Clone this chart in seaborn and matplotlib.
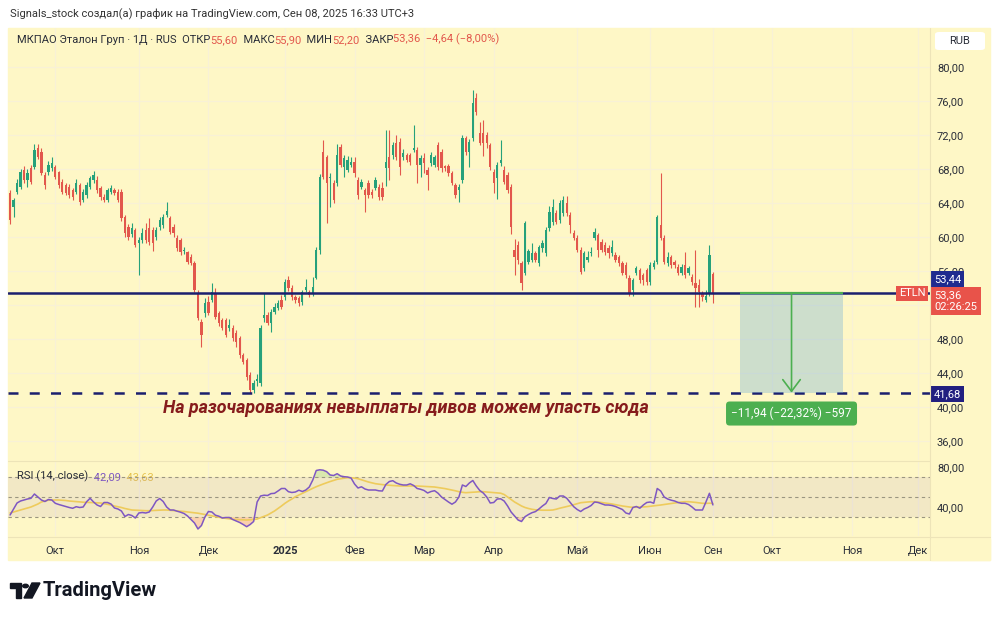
import numpy as np
import pandas as pd
import seaborn as sns
import matplotlib.pyplot as plt
from matplotlib.patches import Rectangle, Polygon, Circle, FancyBboxPatch
from matplotlib.lines import Line2D

# daily candles (RUB)
opens = [65.2, 63.5, 65.3, 65.9, 67.9, 66.7, 68.1, 68.2, 70.5, 70.0,
         67.3, 67.6, 68.1, 68.2, 67.6, 66.5, 66.1, 65.9, 65.5, 65.3,
         66.1, 64.4, 64.9, 65.9, 66.7, 66.7, 65.8, 64.7, 64.4, 65.3,
         65.5, 65.3, 65.3, 62.4, 61.2, 60.4, 60.8, 59.3, 59.6, 60.8,
         61.0, 60.8, 60.0, 61.2, 61.4, 62.6, 62.2, 61.2, 59.9, 59.6,
         58.3, 58.2, 57.6, 56.9, 53.4, 50.0, 51.0, 52.4, 52.6, 53.4,
         51.0, 50.2, 50.2, 49.3, 49.3, 48.7, 48.1, 46.1, 45.5, 43.8,
         42.0, 43.0, 42.8, 50.5, 50.8, 49.9, 51.2, 51.7, 52.6, 52.9,
         54.9, 54.0, 52.9, 52.8, 52.4, 53.8, 53.5, 53.4, 55.2, 58.5,
         70.0, 69.4, 66.9, 66.4, 66.4, 70.6, 68.2, 67.9, 68.5, 68.8,
         66.7, 65.9, 65.5, 66.4, 65.3, 65.8, 65.9, 65.8, 68.1, 69.4,
         69.6, 71.1, 71.2, 69.4, 69.6, 69.6, 70.2, 70.2, 68.5, 69.3,
         67.9, 68.7, 68.5, 70.8, 70.0, 68.3, 68.3, 67.5, 66.1, 65.5,
         66.7, 71.6, 70.0, 71.6, 76.4, 72.2, 72.2, 72.0, 70.8, 67.6,
         66.9, 68.7, 67.9, 67.3, 65.9, 58.5, 59.1, 56.9, 55.8, 57.1,
         57.3, 58.1, 56.9, 58.7, 58.1, 61.0, 61.8, 62.8, 62.0, 62.8,
         64.0, 62.6, 60.5, 59.9, 58.5, 56.3, 57.3, 58.1, 59.9, 60.2,
         59.4, 59.1, 58.7, 58.1, 57.9, 57.6, 56.9, 56.7, 55.2, 53.8,
         55.8, 56.1, 55.5, 56.1, 54.7, 56.5, 57.1, 61.4, 59.9, 56.9,
         57.6, 57.0, 56.5, 55.8, 56.7, 55.8, 55.3, 54.6, 54.4, 53.4,
         52.6, 53.4, 55.6]
highs = [65.5, 64.6, 66.8, 68.0, 68.4, 68.0, 68.5, 71.0, 71.0, 70.5,
         67.6, 68.9, 69.4, 68.5, 67.8, 66.8, 66.4, 66.2, 65.8, 66.8,
         66.4, 65.6, 66.5, 67.2, 67.8, 67.2, 66.0, 65.0, 65.8, 66.1,
         65.8, 65.6, 65.6, 62.6, 61.5, 61.6, 61.0, 60.0, 61.0, 61.6,
         62.2, 61.2, 61.2, 62.4, 62.7, 64.1, 62.5, 61.5, 60.2, 59.9,
         58.8, 58.4, 58.0, 57.2, 53.8, 50.4, 52.8, 53.0, 54.6, 54.0,
         51.3, 50.5, 50.5, 50.4, 49.6, 49.0, 48.4, 46.4, 45.8, 44.1,
         43.2, 43.9, 49.6, 53.4, 51.2, 51.5, 52.2, 52.6, 53.2, 55.0,
         55.4, 54.3, 53.2, 53.0, 53.8, 55.0, 53.8, 55.3, 58.8, 67.4,
         71.4, 69.7, 67.5, 66.7, 71.0, 71.0, 69.6, 69.5, 69.4, 69.4,
         67.0, 66.8, 65.8, 66.7, 65.6, 67.0, 66.2, 66.5, 72.6, 72.6,
         71.2, 72.0, 71.6, 70.3, 69.9, 69.9, 73.2, 70.6, 69.6, 69.9,
         68.2, 70.0, 69.6, 71.2, 70.4, 68.5, 68.6, 67.8, 66.4, 66.2,
         72.0, 71.9, 71.5, 77.3, 76.9, 73.5, 73.8, 72.4, 71.1, 68.0,
         68.8, 71.4, 68.3, 67.6, 66.2, 59.8, 59.5, 57.2, 61.9, 58.6,
         59.3, 58.4, 59.1, 59.6, 61.2, 63.6, 64.5, 63.2, 64.4, 64.8,
         64.8, 62.9, 60.8, 60.2, 58.8, 58.4, 58.4, 58.8, 61.0, 60.5,
         59.8, 59.4, 59.0, 59.6, 58.2, 57.9, 57.2, 57.0, 55.5, 55.2,
         56.6, 56.4, 55.8, 56.4, 57.0, 57.3, 62.6, 67.5, 60.2, 58.2,
         57.9, 57.3, 56.8, 56.8, 58.2, 56.6, 55.6, 58.5, 55.0, 53.7,
         53.8, 59.1, 55.9]
lows = [61.5, 62.4, 65.0, 65.6, 66.4, 65.9, 66.2, 68.0, 69.2, 67.3,
        65.6, 67.3, 67.8, 66.8, 65.8, 65.0, 64.9, 64.6, 64.4, 65.0,
        63.8, 64.1, 64.6, 65.6, 66.4, 65.2, 64.4, 64.1, 64.1, 65.0,
        64.9, 64.1, 61.9, 60.0, 59.6, 60.0, 58.8, 55.5, 59.3, 59.3,
        59.0, 58.3, 59.6, 60.8, 61.0, 62.3, 60.3, 60.0, 58.4, 57.9,
        58.0, 56.8, 56.7, 53.5, 50.2, 47.0, 50.6, 50.8, 52.3, 50.3,
        49.5, 49.0, 48.2, 48.9, 47.8, 47.0, 45.8, 45.0, 43.2, 41.7,
        41.7, 42.5, 42.5, 50.0, 49.6, 48.8, 50.9, 51.4, 51.5, 52.6,
        53.7, 52.6, 52.2, 51.9, 52.0, 53.5, 52.9, 53.1, 55.0, 58.0,
        66.8, 61.6, 63.5, 64.0, 66.0, 68.2, 67.0, 67.6, 68.2, 67.1,
        64.5, 65.6, 62.9, 64.6, 64.6, 65.5, 64.4, 64.4, 66.0, 66.7,
        69.2, 69.1, 67.3, 69.0, 68.8, 68.5, 70.0, 66.4, 67.0, 67.5,
        65.5, 68.4, 68.2, 67.9, 67.6, 67.8, 67.2, 66.1, 64.6, 64.1,
        66.4, 69.7, 68.2, 71.3, 74.4, 70.8, 69.5, 70.5, 67.9, 65.2,
        64.5, 68.4, 66.2, 65.2, 60.3, 55.5, 56.8, 53.8, 55.5, 56.8,
        57.0, 57.0, 56.6, 58.2, 57.8, 60.7, 61.4, 61.5, 61.7, 62.5,
        62.5, 60.5, 59.6, 58.2, 55.6, 56.0, 57.0, 57.8, 59.6, 57.6,
        58.2, 57.9, 57.5, 57.8, 57.0, 56.6, 55.5, 55.2, 53.1, 53.0,
        55.5, 54.6, 54.3, 54.4, 54.4, 56.2, 56.8, 59.6, 56.8, 56.6,
        56.4, 56.4, 55.5, 55.5, 55.2, 55.5, 54.4, 51.8, 51.8, 52.5,
        52.3, 53.1, 52.2]
closes = [62.0, 64.4, 66.4, 67.6, 66.7, 67.5, 66.5, 70.2, 69.4, 67.5,
          66.1, 68.5, 68.7, 67.0, 66.1, 65.3, 65.2, 64.9, 64.7, 66.4,
          64.1, 65.3, 66.1, 66.9, 67.3, 65.5, 64.7, 64.4, 65.5, 65.8,
          65.2, 64.4, 62.2, 60.5, 60.0, 61.0, 59.1, 59.7, 60.5, 59.6,
          59.4, 59.3, 60.8, 62.0, 62.4, 63.0, 60.6, 60.5, 58.7, 58.2,
          58.5, 57.0, 56.9, 53.8, 50.5, 48.5, 52.2, 51.0, 53.5, 50.6,
          49.9, 49.3, 48.5, 49.6, 48.1, 47.6, 46.1, 45.3, 43.5, 42.0,
          42.8, 43.3, 49.3, 50.8, 49.9, 51.2, 51.8, 52.2, 51.8, 54.7,
          54.0, 52.9, 52.6, 52.2, 53.5, 54.1, 53.2, 54.1, 58.5, 67.1,
          67.1, 66.4, 67.1, 64.4, 69.6, 68.5, 69.3, 69.1, 68.8, 67.5,
          64.9, 66.5, 64.9, 64.9, 64.9, 66.7, 64.7, 64.7, 68.8, 68.1,
          70.8, 69.4, 68.2, 69.9, 69.1, 68.8, 70.5, 68.5, 69.3, 68.7,
          67.3, 69.6, 69.4, 68.2, 68.1, 68.1, 67.5, 66.4, 64.9, 65.9,
          71.6, 70.0, 71.2, 75.8, 74.7, 71.1, 71.1, 71.1, 68.2, 66.4,
          68.5, 69.1, 66.5, 65.5, 61.2, 57.6, 57.3, 54.6, 61.6, 58.3,
          58.1, 57.3, 58.8, 59.3, 60.8, 62.9, 63.5, 61.8, 64.0, 64.4,
          62.8, 61.4, 59.9, 58.5, 55.9, 58.1, 57.6, 58.2, 60.6, 58.5,
          58.5, 58.2, 58.1, 58.8, 57.3, 56.9, 55.8, 55.5, 53.4, 54.9,
          56.3, 54.9, 54.9, 54.7, 56.7, 56.9, 62.4, 59.9, 57.1, 57.6,
          56.7, 56.7, 55.8, 56.5, 55.5, 56.3, 54.7, 54.0, 53.5, 52.9,
          53.0, 57.9, 53.36]

rsi = [32, 38, 44, 46, 47, 48, 48.7, 53, 50, 47,
       45.5, 47.5, 47, 43.7, 42.5, 41.5, 40.5, 39.5, 38.7, 40.3,
       39.5, 40, 45.3, 48.7, 45, 42, 40.5, 44.5, 44.5, 43,
       39, 38, 36, 30.5, 32.5, 31.5, 29, 34, 34.5, 34,
       35, 40, 46, 48.5, 45.5, 40, 37, 37, 35.8, 34.8,
       33.5, 31, 27.5, 24, 18, 21.5, 30, 35.5, 35, 31.8,
       30.8, 29, 29.5, 29.5, 27.5, 26, 24.5, 22.5, 20.3, 22.5,
       25.5, 45, 51, 51.8, 51.5, 53.4, 53.7, 56, 58.5, 58.5,
       55.3, 54.5, 55, 56.8, 55.5, 57, 60, 67, 76.5, 77.2,
       76.8, 75.3, 72, 71.5, 73.3, 71, 70.3, 70, 69, 63,
       59, 60.2, 58, 57, 57, 57, 56.2, 56, 62.5, 65.5,
       66.3, 64, 62.7, 62, 62, 63.2, 61.5, 58.5, 57.7, 56.5,
       54, 55.5, 56.3, 53.8, 50, 47.5, 45, 42.8, 45, 50,
       62, 60.5, 64, 66.5, 61, 56.5, 54, 50, 44, 44.5,
       48, 48.2, 46, 41, 35, 31, 27, 25.5, 30.3, 32.5,
       34.3, 35.4, 38, 41, 43.5, 49.5, 48.5, 48, 51, 51,
       48.7, 44.5, 40.3, 37.5, 35.5, 38, 39.5, 41.5, 45, 44.5,
       43.2, 42, 42, 41.5, 40.5, 39, 37.5, 34, 33, 39.5,
       40.5, 38.8, 42, 44.5, 45, 43.8, 58.5, 56, 50, 48,
       46.8, 46, 44.5, 43.7, 43.7, 42.5, 40, 37, 37, 37,
       45, 53.7, 42.09]
rsi_ma = [34, 35, 36, 37, 38, 39, 40, 41.5, 43, 45,
          46, 46.8, 47, 47, 47, 46.8, 46.5, 46, 45.7, 45.3,
          45, 44.8, 44.7, 44.5, 44.3, 44.2, 44, 43.3, 42.7, 42,
          41, 40.3, 39.5, 38.5, 37.7, 37, 36.8, 36.6, 36.4, 36.3,
          36.3, 36.5, 36.7, 36.9, 37, 37, 36.7, 36.4, 36, 35.7,
          35.5, 35, 34.6, 34.2, 33.8, 33.2, 32.5, 31.8, 31, 30.3,
          29.6, 29.1, 28.6, 28.1, 27.7, 27.5, 27.3, 27.1, 27, 27.2,
          27.5, 28, 29.3, 30.6, 32, 34, 36, 38.5, 41, 43.7,
          46, 48, 50.3, 52, 53.7, 55.3, 57, 58.7, 60.3, 61.7,
          63, 64.3, 65.5, 66.6, 67.7, 68.3, 68.8, 69.3, 69.2, 68.9,
          68.3, 67.2, 66, 65, 64.2, 63.3, 62.8, 62.4, 62, 61.8,
          61.5, 61.2, 61, 61, 61, 61, 61, 61, 60.8, 60.6,
          60.4, 60.3, 60, 59.5, 59, 58.4, 57.7, 57, 56.2, 55.3,
          54.7, 54.3, 54.5, 54.8, 55, 55.3, 55.3, 55, 54.8, 54.5,
          54.2, 53.8, 52.5, 50, 47.5, 45, 43, 41, 39.5, 38.5,
          37.7, 37.2, 37, 36.8, 36.8, 36.8, 37, 37.8, 38.8, 39.6,
          40.3, 41.3, 42.3, 43.3, 44.3, 44.7, 45, 45.3, 45.3, 45,
          44.5, 44, 43.6, 43, 42.3, 41.6, 41, 40.5, 40, 39.7,
          39.8, 40, 40.1, 40.3, 40.7, 41.2, 41.6, 42, 42.5, 43,
          43.5, 44, 44.5, 45, 45.3, 45.3, 45, 44.6, 44.2, 43.7,
          43.6, 43.8, 43.63]

month_pos = [13, 37, 57, 79, 99, 119, 139, 163, 184, 202, 219, 242, 261]
month_labels = ["Окт", "Ноя", "Дек", "2025", "Фев", "Мар", "Апр", "Май",
                "Июн", "Сен", "Окт", "Ноя", "Дек"]
price_ticks = [36, 40, 44, 48, 52, 56, 60, 64, 68, 72, 76, 80]
hidden_ticks = [52]  # covered by the last-price badge

line_price = 53.44
target_price = 41.68
last_close = 53.36
measure_start, measure_end = 209.8, 239.4

sns.set_theme(style="white")
plt.rcParams["font.family"] = ["Roboto", "DejaVu Sans"]

BG = "#FEF7C6"
UP = "#26A17B"
DOWN = "#E2574C"
TXT = "#2A2E39"
GRID = "#F8F1D6"
NAVY = "#1B1F6E"
GREEN = "#4CAF50"

W, H = 1000, 619


def fx(x):
    return x / W


def fy(y):
    return 1 - y / H


def fmt(v):
    return f"{v:.2f}".replace(".", ",")


fig = plt.figure(figsize=(10, 6.19), dpi=100)
fig.patch.set_facecolor("white")
fig.add_artist(Rectangle((fx(8), fy(560)), fx(990) - fx(8), fy(28) - fy(560),
                         transform=fig.transFigure, color=BG, zorder=-10))

ax = fig.add_axes([fx(8), fy(460), fx(930) - fx(8), fy(28) - fy(460)])
ax_r = fig.add_axes([fx(8), fy(536), fx(930) - fx(8), fy(462) - fy(536)], sharex=ax)
for a in (ax, ax_r):
    a.set_facecolor("none")
    for s in a.spines.values():
        s.set_visible(False)

df = pd.DataFrame({"bar": np.arange(len(opens)), "open": opens, "high": highs,
                   "low": lows, "close": closes, "rsi": rsi, "ma": rsi_ma})
colors = np.where(df["close"] >= df["open"], UP, DOWN)

# candles
ax.vlines(df["bar"], df["low"], df["high"], colors=colors, lw=0.8, zorder=3)
ax.bar(df["bar"], (df["close"] - df["open"]).abs().clip(lower=0.12),
       bottom=np.minimum(df["open"], df["close"]), width=0.66,
       color=colors, lw=0, zorder=4)

ax.set_xlim(-0.6, 264.4)
ax.set_ylim(33.76, 84.59)
ax.set_yticks(price_ticks)
ax.set_yticklabels(["" if v in hidden_ticks else fmt(v) for v in price_ticks])
ax.yaxis.tick_right()
ax.tick_params(axis="y", length=0, pad=5, labelsize=8, labelcolor=TXT)
ax.set_xticks(month_pos)
ax.tick_params(axis="x", length=0, labelbottom=False)
ax.grid(True, color=GRID, lw=0.9)
ax.set_axisbelow(True)

# horizontal levels
ax.axhline(line_price, color=NAVY, lw=1.8, zorder=5)
ax.axhline(target_price, color=NAVY, lw=1.8, ls=(0, (4, 4.5)), zorder=5)

# measure tool
ax.add_patch(Rectangle((measure_start, target_price), measure_end - measure_start,
                       line_price - target_price, facecolor="#78B2D8", alpha=0.36,
                       lw=0, zorder=6))
ax.hlines(line_price, measure_start, measure_end, color=GREEN, lw=1.6, zorder=7)
mid = (measure_start + measure_end) / 2
ax.annotate("", xy=(mid, target_price), xytext=(mid, line_price),
            arrowprops=dict(arrowstyle="->,head_length=0.6,head_width=0.45",
                            color=GREEN, lw=1.2, shrinkA=0, shrinkB=0,
                            mutation_scale=14), zorder=7)
ax.annotate("−11,94 (−22,32%) −597", xy=(mid, target_price), xytext=(0, -15),
            textcoords="offset points", ha="center", va="center", color="white",
            fontsize=8.5, zorder=8,
            bbox=dict(boxstyle="round,pad=0.45,rounding_size=0.3", fc=GREEN, ec="none"))

ax.text(44, 39.9, "На разочарованиях невыплаты дивов можем упасть сюда",
        ha="left", va="center", fontsize=12.9, fontweight="bold",
        fontstyle="italic", color="#861C1C", zorder=8)

# price scale labels
ax.annotate("ETLN", xy=(1, last_close), xycoords=("axes fraction", "data"),
            xytext=(-3.5, 0), textcoords="offset points", ha="right", va="center",
            fontsize=8, color="white", zorder=9,
            bbox=dict(boxstyle="square,pad=0.25", fc="#E8534A", ec="none"))
ax.annotate(fmt(line_price), xy=(1, line_price), xycoords=("axes fraction", "data"),
            xytext=(3, 10), textcoords="offset points", ha="left", va="center",
            fontsize=8, color="white", annotation_clip=False, zorder=9,
            bbox=dict(boxstyle="square,pad=0.25", fc="#1F2B8F", ec="none"))
ax.annotate(fmt(last_close) + "\n02:26:25", xy=(1, last_close),
            xycoords=("axes fraction", "data"), xytext=(3, -5.5),
            textcoords="offset points", ha="left", va="center", fontsize=8,
            color="white", linespacing=1.15, annotation_clip=False, zorder=9,
            bbox=dict(boxstyle="square,pad=0.3", fc="#E8534A", ec="none"))
ax.annotate(fmt(target_price), xy=(1, target_price), xycoords=("axes fraction", "data"),
            xytext=(3, -1), textcoords="offset points", ha="left", va="center",
            fontsize=8, color="white", annotation_clip=False, zorder=9,
            bbox=dict(boxstyle="square,pad=0.25", fc="#221F80", ec="none"))

# RSI pane
ax_r.axhspan(30, 70, color="#7E57C2", alpha=0.09, lw=0)
for lvl in (70, 50, 30):
    ax_r.axhline(lvl, color="#9A9580", lw=0.8, ls=(0, (3, 3)))
ax_r.fill_between(df["bar"], df["rsi"], 70, where=df["rsi"] > 70, interpolate=True,
                  color=GREEN, alpha=0.2, lw=0)
ax_r.fill_between(df["bar"], df["rsi"], 30, where=df["rsi"] < 30, interpolate=True,
                  color="#F23645", alpha=0.2, lw=0)
sns.lineplot(data=df, x="bar", y="ma", color="#EECB5C", lw=1.2, ax=ax_r)
sns.lineplot(data=df, x="bar", y="rsi", color="#7E57C2", lw=1.1, ax=ax_r)
ax_r.set_ylim(11, 85)
ax_r.set_yticks([40, 80])
ax_r.set_yticklabels([fmt(40), fmt(80)])
ax_r.yaxis.tick_right()
ax_r.tick_params(axis="y", length=0, pad=5, labelsize=8, labelcolor=TXT)
ax_r.set_xticks(month_pos)
ax_r.set_xticklabels(month_labels)
ax_r.tick_params(axis="x", length=0, pad=7, labelsize=8, labelcolor=TXT)
ax_r.get_xticklabels()[3].set_fontweight("bold")
ax_r.grid(True, axis="x", color=GRID, lw=0.9)
ax_r.set_xlabel("")
ax_r.set_ylabel("")

# pane separators and cover for the clipped last month label
for seg in ([(fx(8), fx(930)), (fy(461), fy(461))],
            [(fx(8), fx(990)), (fy(537), fy(537))],
            [(fx(930), fx(930)), (fy(28), fy(560))]):
    fig.add_artist(Line2D(seg[0], seg[1], color="#EDE4B8", lw=0.8,
                          transform=fig.transFigure))
fig.add_artist(Rectangle((fx(931), fy(560)), fx(990) - fx(931), fy(539) - fy(560),
                         transform=fig.transFigure, color=BG, zorder=5))

# header texts
fig.text(fx(10), fy(14), "Signals_stock создал(а) график на TradingView.com, "
         "Сен 08, 2025 16:33 UTC+3", fontsize=8, color="#333333", va="center")


def chain(first, parts, x, y):
    t = fig.text(fx(x), fy(y), first[0], fontsize=8, color=first[1], va="center")
    for s, c in parts:
        t = ax.annotate(s, xy=(1, 0), xycoords=t, xytext=(0, 0),
                        textcoords="offset points", va="bottom", ha="left",
                        fontsize=8, color=c, annotation_clip=False)


RED = "#E2574C"
chain(("МКПАО Эталон Груп · 1Д · RUS  ОТКР", TXT),
      [("55,60", RED), ("  МАКС", TXT), ("55,90", RED), ("  МИН", TXT),
       ("52,20", RED), ("  ЗАКР", TXT), ("53,36  −4,64 (−8,00%)", RED)], 17, 40)
chain(("RSI (14, close) ", TXT),
      [(" " + fmt(rsi[-1]), "#7E57C2"), ("  " + fmt(rsi_ma[-1]), "#E6C34E")], 17, 476)

# RUB box
fig.add_artist(FancyBboxPatch((fx(935), fy(50)), fx(985) - fx(935), fy(32) - fy(50),
                              boxstyle="round,pad=0,rounding_size=0.004",
                              transform=fig.transFigure, fc="white", ec="none"))
fig.text(fx(960), fy(41), "RUB", fontsize=8, color=TXT, ha="center", va="center")

# footer logo
fig.add_artist(Polygon([(fx(10), fy(583)), (fx(21), fy(583)), (fx(21), fy(598)),
                        (fx(16), fy(598)), (fx(16), fy(588)), (fx(10), fy(588))],
                       closed=True, transform=fig.transFigure, color="#131722"))
fig.add_artist(Circle((fx(25.5), fy(586)), 2.8 / W, transform=fig.transFigure,
                      color="#131722"))
fig.add_artist(Polygon([(fx(32), fy(583)), (fx(40), fy(583)), (fx(32), fy(598)),
                        (fx(24), fy(598))], closed=True,
                       transform=fig.transFigure, color="#131722"))
fig.text(fx(43), fy(591), "TradingView", fontsize=14.5, fontweight="bold",
         color="#131722", va="center")

fig.savefig("out.png", dpi=100, facecolor="white")
